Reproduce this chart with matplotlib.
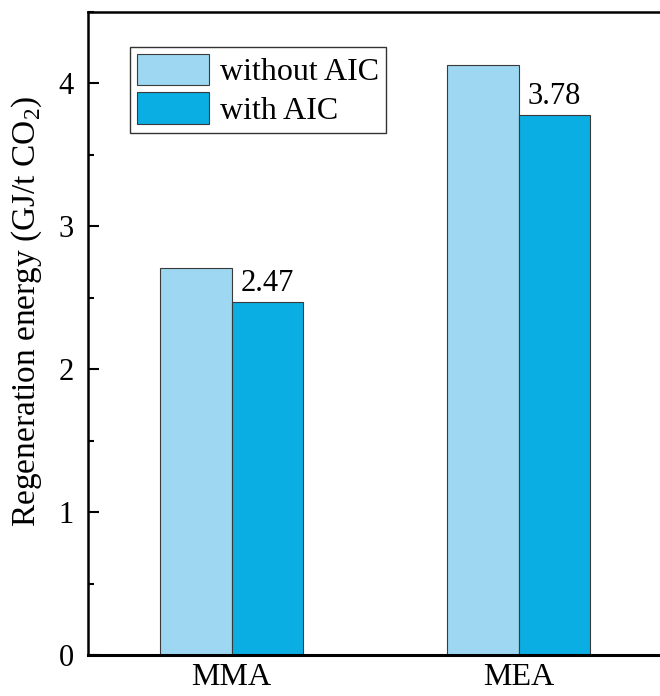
import matplotlib
matplotlib.use("Agg")
import matplotlib.pyplot as plt
import numpy as np
from matplotlib.ticker import MultipleLocator

categories = ["MMA", "MEA"]
without_aic = [2.71, 4.13]
with_aic = [2.47, 3.78]
series_labels = ["without AIC", "with AIC"]
colors = ["#9dd7f1", "#0aaee2"]

plt.rcParams['font.family'] = ['Liberation Serif', 'DejaVu Serif']
plt.rcParams['mathtext.fontset'] = 'custom'
plt.rcParams['mathtext.rm'] = 'Liberation Serif'

fig = plt.figure(figsize=(6.6, 6.96), dpi=100)
ax = fig.add_axes([88/660, 1-655/696, (662-88)/660, (655-12)/696])

x = np.arange(len(categories))
w = 0.25
b1 = ax.bar(x - w/2, without_aic, w, color=colors[0], edgecolor="#3a3a3a", linewidth=0.8, label=series_labels[0])
b2 = ax.bar(x + w/2, with_aic, w, color=colors[1], edgecolor="#3a3a3a", linewidth=0.8, label=series_labels[1])
ax.bar_label(b2, labels=[f"{v:.2f}" for v in with_aic], padding=3, fontsize=22)

ax.set_xlim(-0.5, 1.5)
ax.set_ylim(0, 4.5)
ax.set_xticks(x)
ax.set_xticklabels(categories, fontsize=23)
ax.set_yticks([0, 1, 2, 3, 4])
ax.yaxis.set_minor_locator(MultipleLocator(0.5))
ax.tick_params(axis='y', which='major', direction='in', length=8, width=1.5, labelsize=22, pad=10)
ax.tick_params(axis='y', which='minor', direction='in', length=4.5, width=1.5)
ax.tick_params(axis='x', which='both', length=0, labelsize=23, pad=6)
for s in ax.spines.values():
    s.set_linewidth(1.8)
ax.spines['bottom'].set_linewidth(2.2)

ax.set_ylabel("Regeneration energy (GJ/t CO$_2$)", fontsize=24)
ax.yaxis.set_label_coords(-0.077, 0.535)

leg = ax.legend(loc='upper left', bbox_to_anchor=(0.073, 0.946), fontsize=23, frameon=True,
                fancybox=False, edgecolor='black', handlelength=2.25, handleheight=1.15,
                handletextpad=0.35, borderpad=0.22, labelspacing=0.15, borderaxespad=0)
leg.get_frame().set_linewidth(1.0)

fig.savefig("out.png", dpi=100)
